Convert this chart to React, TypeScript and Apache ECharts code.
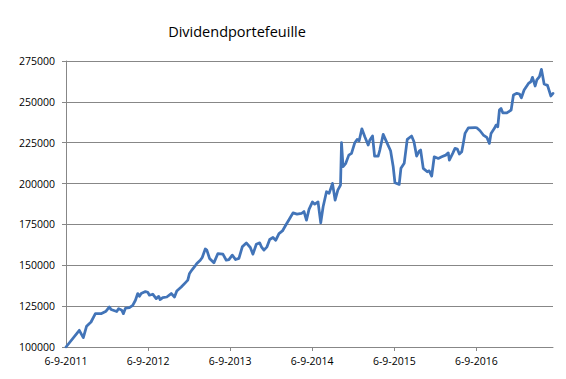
import React, { useEffect, useRef } from "react";
import * as echarts from "echarts";

const TITLE = "Dividendportefeuille";
const START_YEAR = 2011;
const xTickYears = [0, 1, 2, 3, 4, 5];
const X_MAX = 5.934;
const Y_MIN = 100000;
const Y_MAX = 275000;
const Y_STEP = 25000;

// years elapsed since 6-9-2011
const years = [
  0, 0.162, 0.211, 0.251, 0.305, 0.358, 0.427, 0.488, 0.529, 0.549, 0.618, 0.642, 0.679, 0.699, 0.724,
  0.773, 0.813, 0.846, 0.874, 0.895, 0.916, 0.968, 0.996, 1.017, 1.057, 1.099, 1.13, 1.147, 1.179,
  1.228, 1.282, 1.322, 1.35, 1.404, 1.456, 1.484, 1.505, 1.538, 1.578, 1.594, 1.636, 1.66, 1.697,
  1.716, 1.749, 1.802, 1.851, 1.912, 1.953, 1.985, 2.026, 2.067, 2.107, 2.148, 2.197, 2.246, 2.278,
  2.319, 2.36, 2.381, 2.412, 2.449, 2.482, 2.522, 2.555, 2.595, 2.637, 2.677, 2.726, 2.766, 2.815,
  2.869, 2.9, 2.93, 2.961, 3.003, 3.031, 3.071, 3.104, 3.133, 3.174, 3.206, 3.247, 3.279, 3.312,
  3.345, 3.357, 3.376, 3.409, 3.446, 3.479, 3.519, 3.547, 3.572, 3.605, 3.641, 3.682, 3.702, 3.735,
  3.76, 3.804, 3.824, 3.865, 3.914, 3.955, 3.987, 4.008, 4.06, 4.081, 4.121, 4.158, 4.211, 4.24,
  4.272, 4.304, 4.321, 4.353, 4.402, 4.426, 4.456, 4.487, 4.536, 4.578, 4.627, 4.658, 4.671, 4.712,
  4.74, 4.768, 4.793, 4.822, 4.841, 4.862, 4.902, 4.984, 5.005, 5.045, 5.085, 5.127, 5.159, 5.179,
  5.22, 5.24, 5.261, 5.281, 5.301, 5.322, 5.371, 5.424, 5.452, 5.493, 5.525, 5.549, 5.582, 5.635,
  5.664, 5.684, 5.717, 5.737, 5.769, 5.793, 5.826, 5.867, 5.908, 5.934,
];

const values = [
  100000, 110200, 105700, 112700, 115300, 120400, 120400, 121900, 124500, 122900, 121700, 123500, 122500, 120400, 123700,
  124100, 125500, 128600, 132700, 131000, 132700, 133900, 133500, 131700, 132300, 129600, 131000, 129000, 130200,
  130600, 132700, 130600, 134300, 136700, 139400, 140900, 145000, 147400, 150000, 151100, 153100, 154800, 160000,
  159300, 154200, 151500, 157200, 156800, 153100, 153500, 156200, 153500, 154200, 161300, 163700, 160900, 156800,
  162900, 163700, 161300, 159300, 161300, 165800, 167000, 165300, 169400, 171000, 174500, 178600, 182100, 181300,
  181700, 182900, 177600, 184200, 188800, 187400, 188800, 176000, 185800, 195000, 194000, 200100, 189900, 196000,
  199100, 225000, 210300, 212400, 217400, 218500, 225000, 227000, 226200, 233500, 228700, 223600, 226600, 229100,
  216800, 216800, 220500, 230100, 224600, 220100, 210300, 200500, 199500, 209300, 212400, 227000, 229100, 225600,
  216800, 219900, 220500, 209300, 207200, 207800, 204600, 216400, 215400, 216400, 217400, 218800, 214400, 218500,
  221500, 221100, 218100, 219500, 224600, 230700, 234100, 234300, 234100, 232300, 229700, 228300, 224600, 230700,
  233800, 235800, 234700, 245000, 246000, 243300, 243300, 245000, 254200, 255200, 254800, 252500, 257300, 261300,
  262300, 265000, 259700, 263400, 265400, 269900, 260900, 260100, 253600, 255200,
];

const FONT = "'Open Sans', 'Liberation Sans', sans-serif";
const GRID_COLOR = "#878787";

export default function App() {
  const ref = useRef<HTMLDivElement>(null);

  useEffect(() => {
    if (!ref.current) return;
    const chart = echarts.init(ref.current, undefined, { renderer: "svg" });
    const data = years.map((y, i) => [y, values[i]]);
    chart.setOption({
      animation: false,
      backgroundColor: "#ffffff",
      title: {
        text: TITLE,
        left: 232,
        top: 19,
        textAlign: "center",
        textStyle: { fontFamily: FONT, fontSize: 14.5, fontWeight: "normal", color: "#000000" },
      },
      grid: { left: 66, right: 13, top: 61, bottom: 32, containLabel: false },
      xAxis: {
        type: "value",
        min: 0,
        max: X_MAX,
        interval: 1,
        splitLine: { show: false },
        axisLine: { show: true, lineStyle: { color: GRID_COLOR, width: 1 } },
        axisTick: {
          show: true,
          length: 4,
          customValues: xTickYears.slice(1),
          lineStyle: { color: GRID_COLOR },
        },
        axisLabel: {
          customValues: xTickYears,
          margin: 8,
          fontFamily: FONT,
          fontSize: 10.5,
          color: "#000000",
          formatter: (v: number) => `6-9-${START_YEAR + Math.round(v)}`,
        },
      },
      yAxis: {
        type: "value",
        min: Y_MIN,
        max: Y_MAX,
        interval: Y_STEP,
        axisLine: { show: true, lineStyle: { color: GRID_COLOR, width: 1 } },
        axisTick: { show: true, length: 4, lineStyle: { color: GRID_COLOR } },
        splitLine: { show: true, lineStyle: { color: GRID_COLOR, width: 1 } },
        axisLabel: {
          margin: 11,
          fontFamily: FONT,
          fontSize: 10.5,
          color: "#000000",
          formatter: (v: number) => String(v),
        },
      },
      series: [
        {
          type: "line",
          data,
          showSymbol: false,
          symbol: "none",
          lineStyle: { color: "#4274B8", width: 2.75, join: "round", cap: "round" },
        },
      ],
    });
    return () => chart.dispose();
  }, []);

  return (
    <div
      ref={ref}
      style={{ position: "fixed", left: 0, top: 0, width: 566, height: 379, background: "#fff" }}
    />
  );
}
